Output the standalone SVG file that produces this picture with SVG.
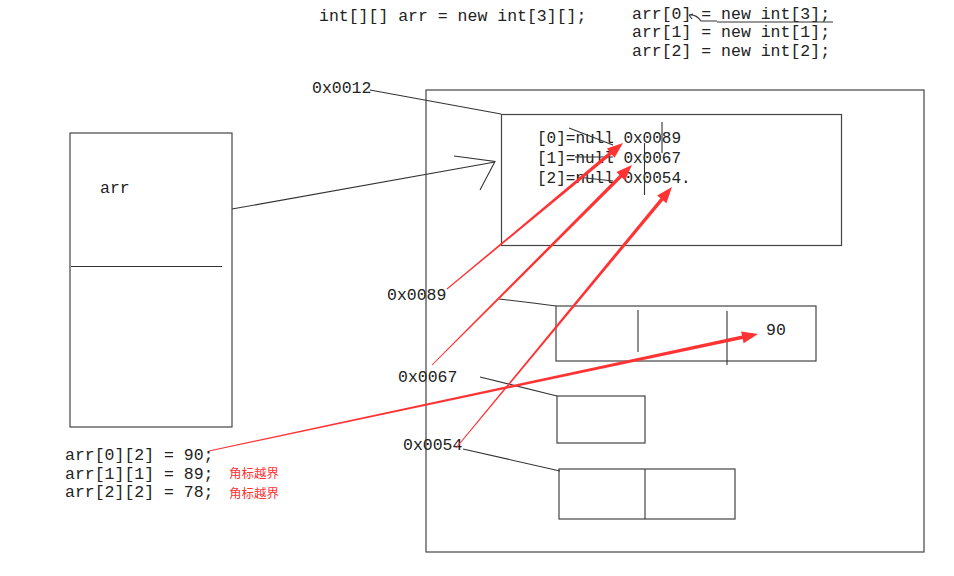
<svg xmlns="http://www.w3.org/2000/svg" width="954" height="576" viewBox="0 0 954 576">
  <style>
    .code { font-family: "Liberation Mono", "DejaVu Sans Mono", monospace; font-size: 16.5px; fill: #222; }
    .small { font-size: 16px; }
    .box { fill: none; stroke: #444; stroke-width: 1.2; }
    .ln { fill: none; stroke: #333; stroke-width: 1.1; }
    .red { fill: #ff3333; stroke: none; }
    .note { font-family: "Noto Sans CJK SC", "Noto Sans", sans-serif; font-size: 12.5px; fill: #ff3333; }
  </style>
  <rect width="954" height="576" fill="#ffffff"/>

  <!-- source code -->
  <g id="code">
    <text class="code" x="319" y="21">int[][] arr = new int[3][];</text>
    <text class="code" x="632" y="18.5">arr[0] = new int[3];</text>
    <text class="code" x="632" y="37">arr[1] = new int[1];</text>
    <text class="code" x="632" y="56">arr[2] = new int[2];</text>
    <line class="ln" x1="717" y1="22" x2="833" y2="22"/>
    <path class="ln" d="M717 21 L701 21 Q696 14 689 15 M689 15 l3 4 M689 15 l4 -1"/>
  </g>

  <!-- stack frame -->
  <g id="stack">
    <rect class="box" x="70" y="133" width="162" height="294"/>
    <line class="ln" x1="71" y1="266.5" x2="222" y2="266.5"/>
    <text class="code" x="100" y="193">arr</text>
  </g>

  <!-- heap area -->
  <g id="heap">
    <rect class="box" x="426" y="90" width="498" height="462"/>
  </g>

  <!-- outer array object -->
  <g id="outer-array">
    <rect class="box" x="501.5" y="114.5" width="340" height="131"/>
    <text class="code small" x="537" y="143">[0]=null 0x0089</text>
    <text class="code small" x="537" y="163">[1]=null 0x0067</text>
    <text class="code small" x="537" y="183">[2]=null 0x0054.</text>
    <line class="ln" x1="569" y1="128" x2="613" y2="145"/>
    <line class="ln" x1="575" y1="157" x2="613" y2="157"/>
    <line class="ln" x1="577" y1="177" x2="613" y2="181"/>
    <line class="ln" x1="662" y1="122" x2="662" y2="153"/>
    <line class="ln" x1="644.5" y1="143" x2="644.5" y2="195"/>
  </g>

  <!-- inner arrays -->
  <g id="array-0">
    <rect class="box" x="556" y="306" width="260" height="55"/>
    <line class="ln" x1="638" y1="310" x2="638" y2="352"/>
    <line class="ln" x1="727" y1="311" x2="727" y2="365"/>
    <text class="code" x="766" y="335">90</text>
  </g>
  <g id="array-1">
    <rect class="box" x="557" y="396" width="88" height="47"/>
  </g>
  <g id="array-2">
    <rect class="box" x="559" y="469" width="176" height="50"/>
    <line class="ln" x1="645" y1="469" x2="645" y2="519"/>
  </g>

  <!-- address labels -->
  <g id="addresses">
    <text class="code" x="312" y="92.5">0x0012</text>
    <text class="code" x="387" y="300">0x0089</text>
    <text class="code" x="398" y="381.5">0x0067</text>
    <text class="code" x="403" y="450">0x0054</text>
  </g>

  <!-- assignments -->
  <g id="assignments">
    <text class="code" x="65" y="460">arr[0][2] = 90;</text>
    <text class="code" x="65" y="478.5">arr[1][1] = 89;</text>
    <text class="code" x="65" y="497">arr[2][2] = 78;</text>
    <text class="note" x="229" y="477.5">角标越界</text>
    <text class="note" x="229" y="497.5">角标越界</text>
  </g>

  <g id="connectors">
    <!-- address leaders -->
    <polyline class="ln" points="370,90 501,114"/>
    <polyline class="ln" points="499,299 533,303 556,306"/>
    <polyline class="ln" points="480,377 557,396"/>
    <polyline class="ln" points="463,449 560,471"/>
    <!-- reference from stack to heap -->
    <line class="ln" x1="232" y1="209" x2="495" y2="162"/>
    <polyline class="ln" points="454,156 495,161.5 480,190"/>
    <!-- red pointer arrows (tapered) -->
    <polygon class="red" points="447.32,289.38 611.81,154.56 614.52,157.83 623,143 606.86,148.59 609.57,151.86 446.68,288.62"/>
    <polygon class="red" points="432.35,365.35 621.93,177.55 624.93,180.55 632,165 616.45,172.07 619.45,175.07 431.65,364.65"/>
    <polygon class="red" points="456.39,448.32 663.15,200.45 666.42,203.16 672,187 657.18,195.5 660.45,198.21 455.61,447.68"/>
    <polygon class="red" points="209.1,451.49 742.71,339.04 743.6,343.2 758,334 741.1,331.46 741.99,335.62 208.9,450.51"/>
  </g>
</svg>
